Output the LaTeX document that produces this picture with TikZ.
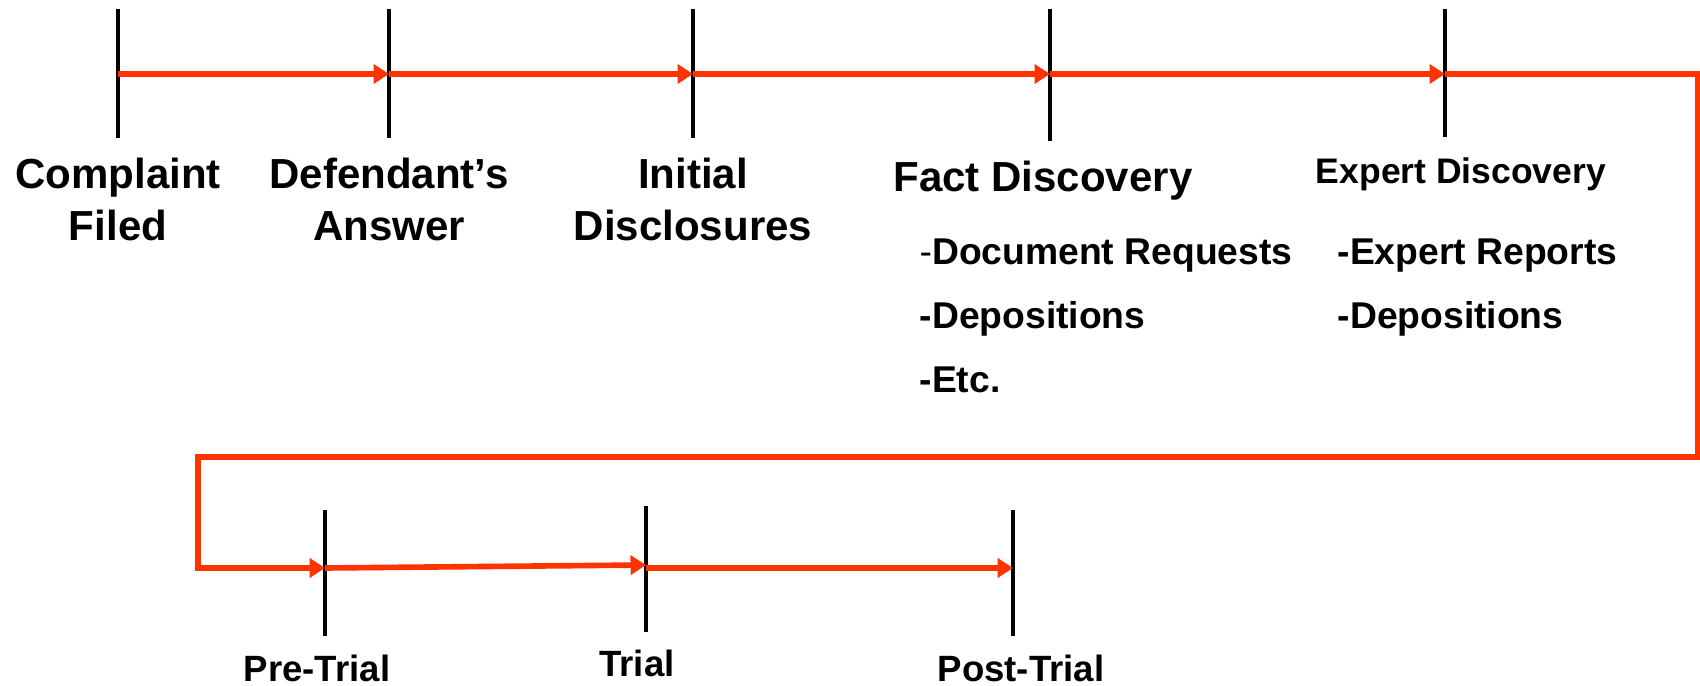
\documentclass[tikz,border=0pt]{standalone}
\usepackage{fontspec}
\setmainfont{Liberation Sans}
\usetikzlibrary{arrows.meta, positioning}
\definecolor{flowred}{HTML}{FF3300}

\begin{document}
\begin{tikzpicture}[x=0.01cm, y=-0.01cm,
    tick/.style = {line width=1.3pt, black},
    flow/.style = {line width=1.6pt, flowred, line join=miter,
                   -{Triangle[length=4.4pt, width=5.4pt]}},
    stage/.style = {font=\fontsize{11.95}{14.8}\selectfont\bfseries, align=center, anchor=base, inner sep=0pt},
    substage/.style = {font=\fontsize{10.1}{12}\selectfont\bfseries, anchor=base, inner sep=0pt},
    task/.style = {font=\fontsize{10.6}{12.5}\selectfont\bfseries, anchor=base west, inner sep=0pt},
    trialstage/.style = {font=\fontsize{10.4}{12.5}\selectfont\bfseries, anchor=base, inner sep=0pt}]

    \useasboundingbox (0,0) rectangle (1700,686);

    % timeline points
    \coordinate (filed)   at (118,74);
    \coordinate (answer)  at (389,74);
    \coordinate (initial) at (693,74);
    \coordinate (fact)    at (1050,74);
    \coordinate (expert)  at (1445,74);
    \coordinate (pretrial)  at (325,568);
    \coordinate (trialin)   at (646,565);
    \coordinate (trial)     at (646,568);
    \coordinate (posttrial) at (1013,568);

    % turn-around corners
    \coordinate (turnA) at (1698,74);
    \coordinate (turnB) at (1698,457);
    \coordinate (turnC) at (198,457);
    \coordinate (turnD) at (198,568);

    % ticks
    \draw[tick] (118,9)  -- (118,138);
    \draw[tick] (389,9)  -- (389,138);
    \draw[tick] (693,9)  -- (693,138);
    \draw[tick] (1050,9) -- (1050,141);
    \draw[tick] (1445,9) -- (1445,137);
    \draw[tick] (325,510) -- (325,636);
    \draw[tick] (646,506) -- (646,632);
    \draw[tick] (1013,510) -- (1013,636);

    % labels
    \node (complaint) [stage] at (118,241)  {Complaint\\Filed};
    \node (defendant) [stage] at (389,241)  {Defendant's\\Answer};
    \node (disclose)  [stage] at (693,241)  {Initial\\Disclosures};
    \node (factdisc)  [stage] at (1043,192) {Fact Discovery};
    \node (expdisc)   [substage] at (1461,184) {Expert Discovery};

    \node (fact1) [task] at (919,265) {{\mdseries -}Document Requests};
    \node (fact2) [task] at (919,329) {-Depositions};
    \node (fact3) [task] at (919,393) {-Etc.};
    \node (exp1)  [task] at (1337,265) {-Expert Reports};
    \node (exp2)  [task] at (1337,329) {-Depositions};

    \node (pre)  [trialstage] at (317,682)  {Pre-Trial};
    \node (tri)  [trialstage] at (637,677)  {Trial};
    \node (post) [trialstage] at (1021,682) {Post-Trial};

    % flow
    \path[flow]
    (filed) edge (answer)
    (answer) edge (initial)
    (initial) edge (fact)
    (fact) edge (expert)
    (pretrial) edge (trialin)
    (trial) edge (posttrial);
    \draw[flow] (expert) -- (turnA) -- (turnB) -- (turnC) -- (turnD) -- (pretrial);
\end{tikzpicture}
\end{document}
